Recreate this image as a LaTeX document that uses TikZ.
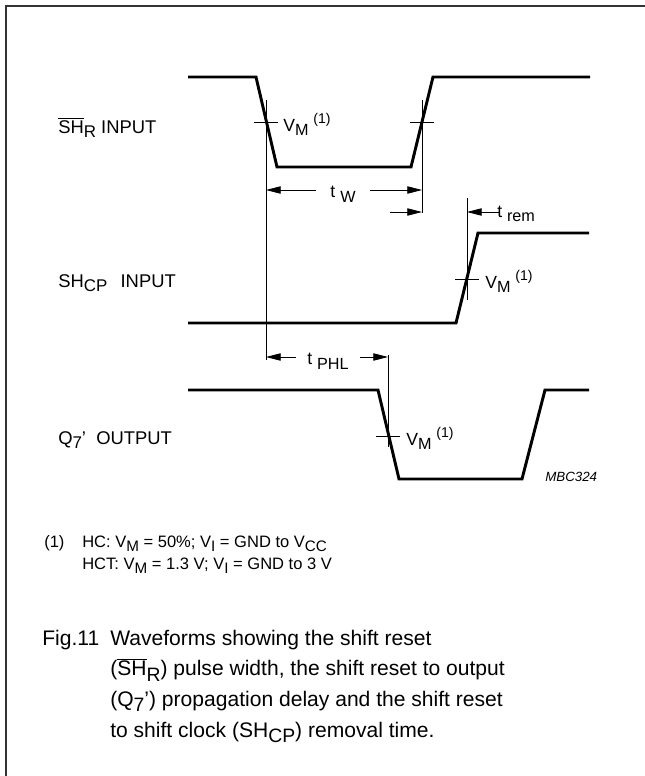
\documentclass[tikz,border=0pt]{standalone}
\usepackage{fontspec}
\setmainfont{Liberation Sans}
\usetikzlibrary{arrows.meta}
\newcommand{\dnsub}[1]{\raisebox{-0.5ex}[0pt][0pt]{\scalebox{0.92}{#1}}}
\newcommand{\upsup}[1]{\raisebox{0.85ex}{\scalebox{0.8}{#1}}}
\newcommand{\barsig}[1]{$\overline{\hbox{#1}}$}
\newcommand{\vmark}{V\dnsub{M}\;\upsup{(1)}}
\begin{document}
\begin{tikzpicture}[x=0.75pt,y=0.75pt,yscale=-1,xscale=1,
  wave/.style={line width=2.2pt,line join=miter},
  mline/.style={line width=0.6pt},
  dimarrow/.style={line width=0.6pt,-{Triangle[length=11pt,width=5.5pt]}},
  lbl/.style={anchor=base west,inner sep=0pt,font=\fontsize{13.2}{15}\selectfont},
  tlbl/.style={inner sep=0pt,font=\fontsize{13.2}{15}\selectfont},
]
\useasboundingbox (0,0) rectangle (645,776);

%Frame
\draw [line width=1.5pt,color=black!80] (6,776) -- (6,6) -- (645,6) ;

%Waveform SH_R
\draw [wave] (188,77) -- (256,77) -- (277,167) -- (411,167) -- (433,77) -- (590,77) ;
%Waveform SH_CP
\draw [wave] (188,323) -- (456,323) -- (478,233) -- (589,233) ;
%Waveform Q7'
\draw [wave] (188,390) -- (378,390) -- (399,479) -- (522,479) -- (545,390) -- (589,390) ;

%Reference lines
\coordinate (ra) at (266,122) ;
\coordinate (rb) at (422,122) ;
\coordinate (rc) at (467,279) ;
\coordinate (rd) at (388,436) ;
\draw [mline] (266,100) -- (266,360) ;
\draw [mline] (422,100) -- (422,213) ;
\draw [mline] (467,198) -- (467,300) ;
\draw [mline] (388,355) -- (388,447) ;

%Crossing ticks
\draw [mline] ([xshift=-9]ra) -- ([xshift=9]ra) ;
\draw [mline] ([xshift=-9]rb) -- ([xshift=9]rb) ;
\draw [mline] ([xshift=-9]rc) -- ([xshift=9]rc) ;
\draw [mline] ([xshift=-9]rd) -- ([xshift=9]rd) ;

% Text Node
\node [lbl] (vma) at (283,131) {\vmark};
% Text Node
\node [lbl] (vmc) at (485,288) {\vmark};
% Text Node
\node [lbl] (vmd) at (406,445) {\vmark};

%Pulse width
\coordinate (twl) at (266,190) ;
\coordinate (twr) at (422,190) ;
\node [tlbl,inner xsep=11pt] (tw) at (343,192) {t \dnsub{W}};
\draw [dimarrow] (tw.west |- twl) -- (twl) ;
\draw [dimarrow] (tw.east |- twr) -- (twr) ;

%Removal time
\coordinate (rma) at (422,212) ;
\coordinate (rmb) at (467,212) ;
\draw [dimarrow] ([xshift=-24]rma) -- (rma) ;
\draw [dimarrow] ([xshift=25]rmb) -- (rmb) ;
\node [lbl] (trem) at (497,217) {t \dnsub{rem}};

%Propagation delay
\coordinate (pha) at (266,357) ;
\coordinate (phb) at (388,357) ;
\node [tlbl,inner xsep=8pt] (tphl) at (328,359) {t \dnsub{PHL}};
\draw [dimarrow] (tphl.west |- pha) -- (pha) ;
\draw [dimarrow] (tphl.east |- phb) -- (phb) ;

% Text Node
\node [lbl,font=\fontsize{13.8}{15}\selectfont] (shr) at (58,133) {\barsig{SH}\dnsub{R} INPUT};
% Text Node
\node [lbl,font=\fontsize{13.8}{15}\selectfont] (shcp) at (58,287) {SH\dnsub{CP}\, \ INPUT};
% Text Node
\node [lbl,font=\fontsize{13.8}{15}\selectfont] (q7) at (58,444) {Q\dnsub{7}' \ OUTPUT};
% Text Node
\node [lbl,font=\fontsize{10}{12}\itshape] (code) at (545,481) {MBC324};

% Text Node
\node [lbl,font=\fontsize{12.4}{16.5}\selectfont] (fn) at (44,547) {(1)};
\node [lbl,font=\fontsize{12.4}{16.5}\selectfont,align=left] (fntext) at (82,569) {HC: V\dnsub{M} = 50\%; V\dnsub{I} = GND to V\dnsub{CC}\\HCT: V\dnsub{M} = 1.3 V; V\dnsub{I} = GND to 3 V};

% Text Node
\node [lbl,font=\fontsize{15.8}{23}\selectfont] (fig) at (42,645) {Fig.11};
\node [lbl,font=\fontsize{15.8}{23}\selectfont,align=left] (cap) at (110,737) {Waveforms showing the shift reset\\(\barsig{SH}\dnsub{R}) pulse width, the shift reset to output\\(Q\dnsub{7}') propagation delay and the shift reset\\to shift clock (SH\dnsub{CP}) removal time.};

\end{tikzpicture}
\end{document}
